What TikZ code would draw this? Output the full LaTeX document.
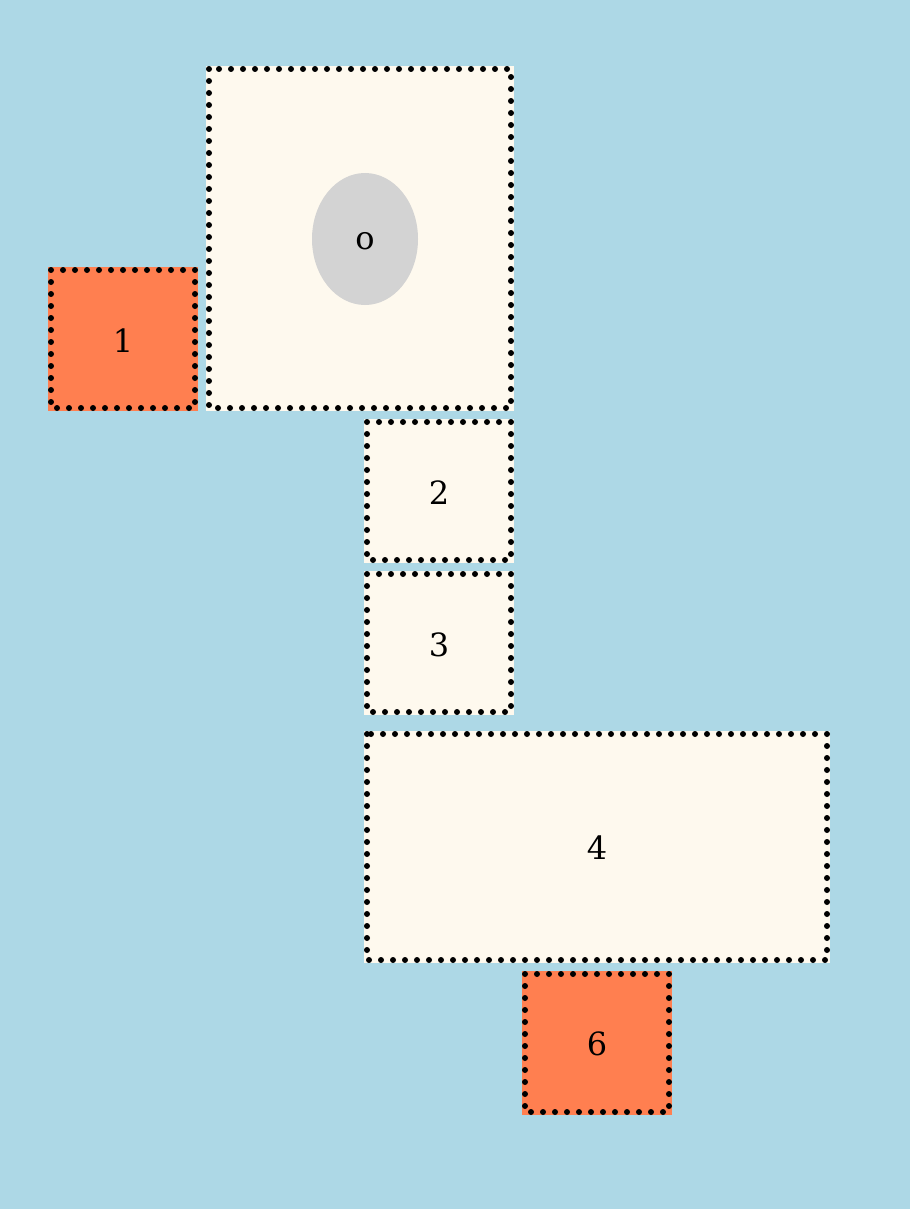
\documentclass[tikz,border=0pt]{standalone}
\usepackage{fontspec}
\setmainfont{DejaVu Serif}
\usetikzlibrary{shapes.geometric}
\definecolor{bgblue}{HTML}{ADD8E6}
\definecolor{creamfill}{HTML}{FEF9EE}
\definecolor{coralfill}{HTML}{FF7F50}
\definecolor{ovalgray}{HTML}{D3D3D3}
\begin{document}
\begin{tikzpicture}[x=1pt,y=-1pt,
  boxbase/.style={rectangle, inner sep=0pt, outer sep=0pt},
  creambox/.style={boxbase, fill=creamfill},
  coralbox/.style={boxbase, fill=coralfill},
  lbl/.style={inner sep=0pt, font=\fontsize{32}{38}\selectfont},
  dotborder/.style={draw=black, line width=6pt, line cap=round, dash pattern=on 0pt off 12pt},
  oval/.style={ellipse, fill=ovalgray, inner sep=0pt, minimum width=106pt, minimum height=132pt}
]
\fill[bgblue] (0,0) rectangle (910,1209);
\useasboundingbox (0,0) rectangle (910,1209);

\node[creambox, minimum width=308pt, minimum height=345pt] (b0) at (360,238.5) {};
\node[coralbox, minimum width=150pt, minimum height=144pt] (b1) at (123,339) {};
\node[creambox, minimum width=150pt, minimum height=144pt] (b2) at (439,491) {};
\node[creambox, minimum width=150pt, minimum height=144pt] (b3) at (439,643) {};
\node[creambox, minimum width=466pt, minimum height=232pt] (b4) at (597,847) {};
\node[coralbox, minimum width=150pt, minimum height=144pt] (b6) at (597,1043) {};

\foreach \n in {b0,b1,b2,b3,b4,b6}
  \draw[dotborder] ([xshift=3pt,yshift=-3pt]\n.north west) rectangle ([xshift=-3pt,yshift=3pt]\n.south east);

\node[oval] (o) at (365,239) {};

\node[lbl] (t0) at ([yshift=-2pt]o.center) {o};
\node[lbl] (t1) at ([yshift=-2pt]b1.center) {1};
\node[lbl] (t2) at ([yshift=-2pt]b2.center) {2};
\node[lbl] (t3) at ([yshift=-2pt]b3.center) {3};
\node[lbl] (t4) at ([yshift=-1pt]b4.center) {4};
\node[lbl] (t6) at ([yshift=-1pt]b6.center) {6};
\end{tikzpicture}
\end{document}
